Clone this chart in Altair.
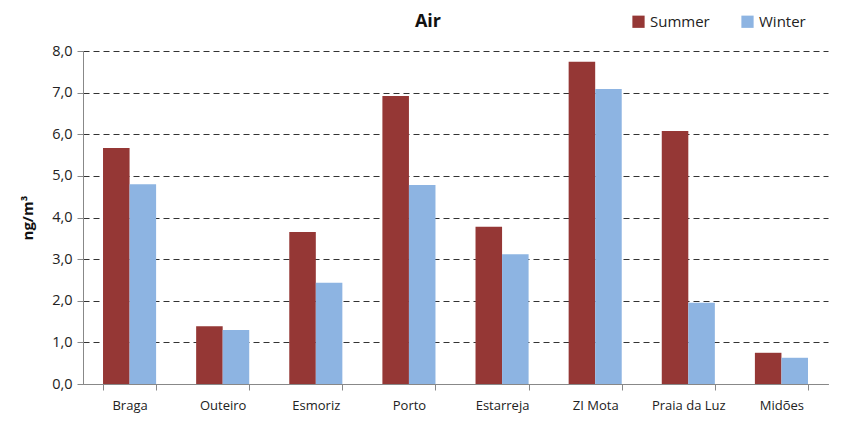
import altair as alt
import pandas as pd

sites = ["Braga", "Outeiro", "Esmoriz", "Porto", "Estarreja", "ZI Mota", "Praia da Luz", "Midões"]
summer = [5.67, 1.39, 3.65, 6.92, 3.78, 7.74, 6.08, 0.75]
winter = [4.80, 1.30, 2.43, 4.78, 3.12, 7.09, 1.95, 0.63]
seasons = ["Summer", "Winter"]
colors = ["#953735", "#8DB4E2"]
title_text = ["Air"]

rows = []
for s, a, b in zip(sites, summer, winter):
    rows.append({"site": s, "season": "Summer", "value": a})
    rows.append({"site": s, "season": "Winter", "value": b})
df = pd.DataFrame(rows)

font = "Open Sans"

bars = alt.Chart(df).mark_bar().encode(
    x=alt.X("site:N", sort=sites, title=None,
            scale=alt.Scale(paddingInner=0.43, paddingOuter=0.215),
            axis=alt.Axis(labelAngle=0, tickBand="extent", domainColor="#888888",
                          tickColor="#888888", tickSize=6, labelFont=font,
                          labelFontSize=13, labelColor="#222222", labelPadding=9)),
    xOffset=alt.XOffset("season:N", sort=seasons),
    y=alt.Y("value:Q", title="ng/m³",
            scale=alt.Scale(domain=[0, 8]),
            axis=alt.Axis(values=[0, 1, 2, 3, 4, 5, 6, 7, 8],
                          labelExpr="replace(format(datum.value, '.1f'), '.', ',')",
                          grid=True, gridDash=[6, 4], gridColor="#333333", gridWidth=1.2,
                          domainColor="#888888", tickColor="#888888", tickSize=6,
                          labelFont=font, labelFontSize=14.5, labelColor="#222222",
                          labelPadding=5,
                          titleFont=font, titleFontSize=15, titleFontWeight="bold",
                          titleColor="#111111", titlePadding=16)),
    color=alt.Color("season:N", sort=seasons,
                    scale=alt.Scale(domain=seasons, range=colors),
                    legend=alt.Legend(title=None, orient="none", direction="horizontal",
                                      legendX=548, legendY=-37, symbolType="square",
                                      symbolSize=150, symbolStrokeWidth=0,
                                      labelFont=font, labelFontSize=15,
                                      labelColor="#222222", columnPadding=30)),
)

title = alt.Chart(pd.DataFrame({"t": title_text})).mark_text(
    font=font, fontSize=18, fontWeight="bold", color="#111111", baseline="middle"
).encode(text="t:N", x=alt.value(345), y=alt.value(-29))

chart = alt.layer(bars, title).properties(
    width=745, height=333,
    autosize=alt.AutoSizeParams(type="none"),
    padding={"left": 75, "right": 4, "top": 43, "bottom": 36},
).configure_view(stroke=None).configure_axis(grid=False)

chart.save("out.html", embed_options={"renderer": "svg", "actions": False})
